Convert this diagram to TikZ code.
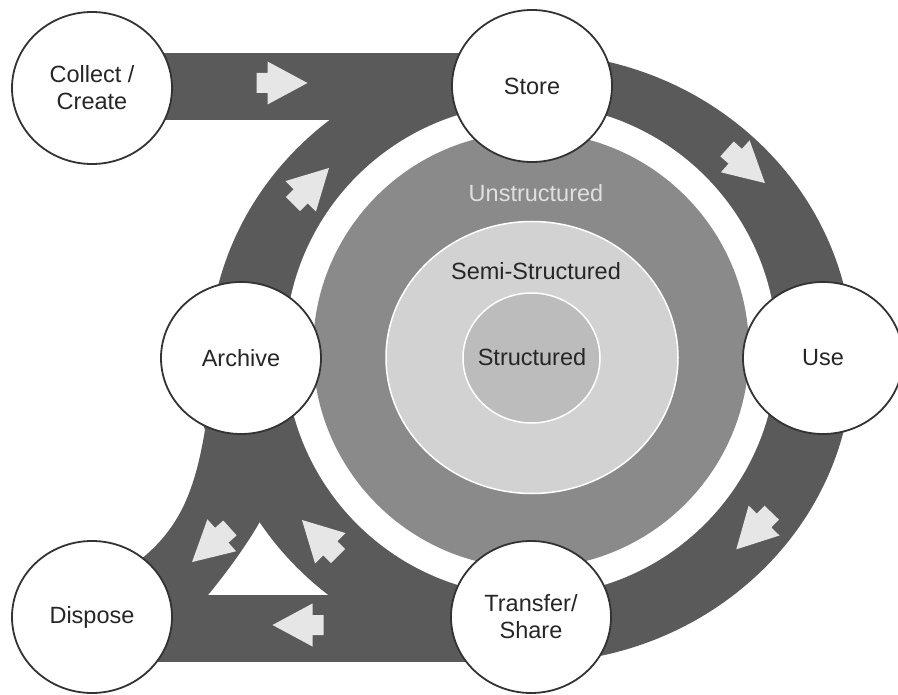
\documentclass[tikz,border=0pt]{standalone}
\usepackage{fontspec}
\setmainfont{Liberation Sans}
\usetikzlibrary{shapes.geometric}
\definecolor{band}{HTML}{5A5A5A}
\definecolor{diskgray}{HTML}{8A8A8A}
\definecolor{semigray}{HTML}{D2D2D2}
\definecolor{structgray}{HTML}{BCBCBC}
\definecolor{arrowfill}{HTML}{E6E6E6}
\definecolor{outline}{HTML}{333333}
\definecolor{txt}{HTML}{262626}
\newcommand{\stagefont}{\fontsize{23.5}{27}\selectfont}
\begin{document}
\begin{tikzpicture}[x=1pt,y=-1pt,
  stage/.style={ellipse, draw=outline, line width=1.8pt, fill=white,
    minimum width=160pt, minimum height=152pt, inner sep=0pt,
    align=center, font=\stagefont, text=txt},
  ringlabel/.style={font=\stagefont, inner sep=0pt},
  blockarrow/.pic={
    \fill[arrowfill] (-25.5,-10) -- (-14.5,-10) -- (-14.5,-21.5) -- (25.5,0)
      -- (-14.5,21.5) -- (-14.5,10) -- (-25.5,10) -- cycle;
  }]
\useasboundingbox (0,0) rectangle (898,695);
\clip (0,0) rectangle (898,695);
\fill[white] (0,0) rectangle (898,695);

% dark flow band
\fill[band] (531,358) ellipse [x radius=322, y radius=305];
\fill[band] (150,53) rectangle (531,120);
\fill[band] (150,595) rectangle (531,662);
\fill[band] (200,415) -- (205,430) .. controls (195,490) and (180,528) .. (140,560)
  -- (140,600) -- (208,595) .. controls (223,577) and (244,549) .. (258,525)
  -- (300,450) -- (262,395) -- cycle;

% white separating ring and inner disks
\fill[white] (531,350) circle [radius=246];
\fill[diskgray] (531,350) circle [radius=218];
\filldraw[fill=semigray, draw=white, line width=1.5pt] (532,357.5) ellipse [x radius=146, y radius=136];
\filldraw[fill=structgray, draw=white, line width=1.5pt] (531.5,358) ellipse [x radius=68.5, y radius=65];

\node[ringlabel, text=white!88!black] (unstr) at (536,193) {Unstructured};
\node[ringlabel, text=txt] (semi) at (536,271) {Semi-Structured};
\node[ringlabel, text=txt] (struct) at (532,357) {Structured};

% flow arrows
\pic (a1) at (282,83) {blockarrow};
\pic[rotate=45] (a2) at (311,186) {blockarrow};
\pic[rotate=-42] (a3) at (746,166) {blockarrow};
\pic[rotate=-134] (a4) at (754,531) {blockarrow};
\pic[rotate=180] (a5) at (298,625) {blockarrow};
\pic[rotate=135] (a6) at (320,538) {blockarrow};
\pic[rotate=-138] (a7) at (211,545) {blockarrow};

% stages
\node[stage] (collect) at (92,88) {Collect /\\Create};
\node[stage] (store) at (532,86) {Store};
\node[stage] (archive) at (241,358) {Archive};
\node[stage] (use) at (823,358) {Use};
\node[stage] (dispose) at (92,617) {Dispose};
\node[stage] (transfer) at (531,617) {Transfer/\\Share};
\end{tikzpicture}
\end{document}
